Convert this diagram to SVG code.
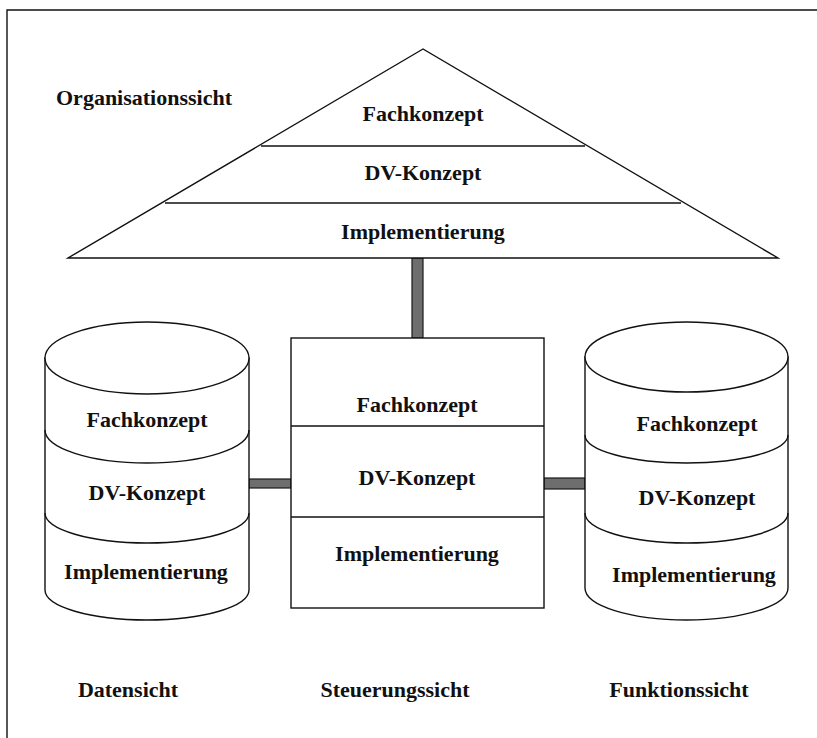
<svg xmlns="http://www.w3.org/2000/svg" width="817" height="738" viewBox="0 0 817 738">
<style>
.ln{fill:none;stroke:#111;stroke-width:1.4}
.sh{fill:#fff;stroke:#111;stroke-width:1.4}
.t{font-family:"Liberation Serif","Times New Roman",serif;font-weight:bold;font-size:22px;fill:#111;text-anchor:middle}
.tl{font-family:"Liberation Serif","Times New Roman",serif;font-weight:bold;font-size:22px;fill:#111}
.con{fill:#6e6e6e;stroke:#1a1a1a;stroke-width:1.2}
</style>
<rect x="0" y="0" width="817" height="738" fill="#fff"/>
<g id="frame">
<path class="ln" d="M7,738 V10 H817" stroke-width="2"/>
</g>
<g id="connectors">
<rect class="con" x="412" y="258" width="11" height="80"/>
<rect class="con" x="249" y="479" width="42" height="9"/>
<rect class="con" x="544" y="478" width="41" height="11"/>
</g>
<g id="organisationssicht">
<polygon class="sh" points="423,49 68,258 778,258"/>
<line class="ln" x1="261" y1="146" x2="585" y2="146"/>
<line class="ln" x1="165" y1="203" x2="681" y2="203"/>
<text class="t" x="423" y="121">Fachkonzept</text>
<text class="t" x="423" y="180">DV-Konzept</text>
<text class="t" x="423" y="239">Implementierung</text>
<text class="tl" x="56" y="105">Organisationssicht</text>
</g>
<g id="steuerungssicht">
<rect class="sh" x="291" y="338" width="253" height="270"/>
<line class="ln" x1="291" y1="426" x2="544" y2="426"/>
<line class="ln" x1="291" y1="517" x2="544" y2="517"/>
<text class="t" x="417" y="412">Fachkonzept</text>
<text class="t" x="417" y="485">DV-Konzept</text>
<text class="t" x="417" y="561">Implementierung</text>
<text class="t" x="395" y="697">Steuerungssicht</text>
</g>
<g id="datensicht">
<path class="sh" d="M45,358 V590 A102,30 0 0 0 249,590 V358 Z"/>
<ellipse class="sh" cx="147" cy="358" rx="102" ry="36"/>
<path class="ln" d="M45,430 A102,33 0 0 0 249,430"/>
<path class="ln" d="M45,513 A102,30 0 0 0 249,513"/>
<text class="t" x="147" y="427">Fachkonzept</text>
<text class="t" x="147" y="500">DV-Konzept</text>
<text class="t" x="146" y="579">Implementierung</text>
<text class="t" x="128" y="697">Datensicht</text>
</g>
<g id="funktionssicht">
<path class="sh" d="M585,357 V588 A101.5,32 0 0 0 788,588 V357 Z"/>
<ellipse class="sh" cx="686.5" cy="357" rx="101.5" ry="35"/>
<path class="ln" d="M585,435 A101.5,28 0 0 0 788,435"/>
<path class="ln" d="M585,513 A101.5,30 0 0 0 788,513"/>
<text class="t" x="697" y="431">Fachkonzept</text>
<text class="t" x="697" y="505">DV-Konzept</text>
<text class="t" x="694" y="582">Implementierung</text>
<text class="t" x="679" y="697">Funktionssicht</text>
</g>
</svg>
